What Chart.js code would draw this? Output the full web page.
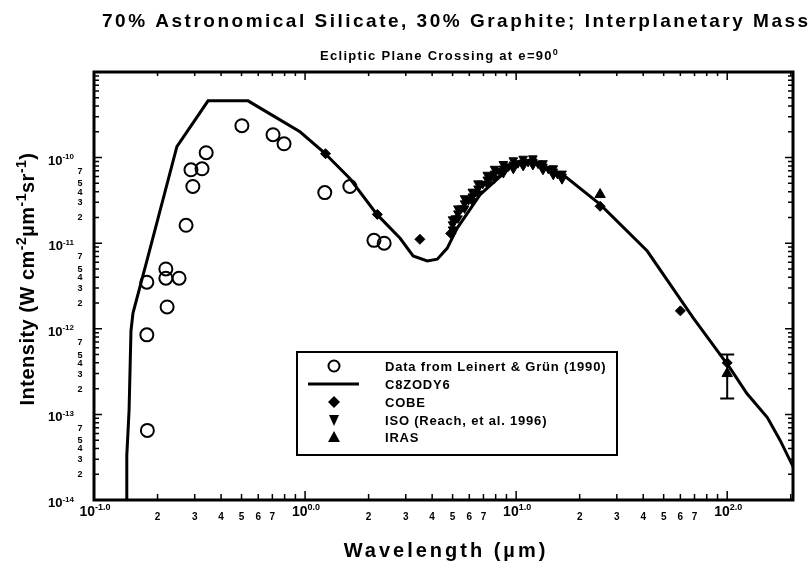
<!DOCTYPE html>
<html>
<head>
<meta charset="utf-8">
<script src="https://cdn.jsdelivr.net/npm/chart.js@4/dist/chart.umd.min.js"></script>
<style>
  html, body { margin: 0; padding: 0; background: #fff; }
  #wrap { width: 810px; height: 567px; }
</style>
</head>
<body>
<div id="wrap"><canvas id="chart" width="810" height="567"></canvas></div>
<script>
// C8ZODY6 model curve
const modelWavelength = [0.142, 0.143, 0.1466, 0.1497, 0.153, 0.178, 0.247, 0.347, 0.537, 0.66, 0.946, 1.22, 1.63, 2.19, 2.82, 3.25, 3.79, 4.23, 4.71, 5.25, 6.75, 9.7, 12.0, 16.7, 25.0, 41.8, 69, 103, 124, 155, 178, 206];
const modelIntensity = [1e-14, 3.3e-14, 1.11e-13, 9.5e-13, 1.53e-12, 6.2e-12, 1.34e-10, 4.6e-10, 4.6e-10, 3.4e-10, 2.0e-10, 1.17e-10, 5.7e-11, 2.17e-11, 1.14e-11, 7.1e-12, 6.2e-12, 6.5e-12, 8.7e-12, 1.49e-11, 3.7e-11, 8.3e-11, 9.0e-11, 6.3e-11, 2.84e-11, 8.1e-12, 1.34e-12, 3.5e-13, 1.75e-13, 9.2e-14, 5.0e-14, 2.4e-14];

// Leinert & Grun (1990)
const leinertWavelength = [0.502, 0.705, 0.795, 0.34, 0.288, 0.325, 0.294, 0.273, 1.24, 1.63, 2.12, 2.37, 0.219, 0.219, 0.253, 0.178, 0.222, 0.178, 0.179];
const leinertIntensity = [2.36e-10, 1.85e-10, 1.45e-10, 1.14e-10, 7.2e-11, 7.4e-11, 4.6e-11, 1.62e-11, 3.9e-11, 4.6e-11, 1.08e-11, 1.0e-11, 5.0e-12, 3.9e-12, 3.9e-12, 3.5e-12, 1.8e-12, 8.5e-13, 6.5e-14];

// COBE
const cobeWavelength = [1.25, 2.2, 3.5, 4.9, 12, 25, 60, 100];
const cobeIntensity = [1.11e-10, 2.17e-11, 1.11e-11, 1.3e-11, 9.0e-11, 2.7e-11, 1.62e-12, 4.0e-13];

// ISO (Reach et al. 1996) - dense spectrum band, read as upper / middle / lower edge
const isoWavelength = [
    5.0, 5.0, 5.0, 5.15, 5.3, 5.3, 5.3, 5.5, 5.7, 5.7, 5.7, 5.95, 6.2, 6.2, 6.2, 6.4,
    6.6, 6.6, 6.6, 6.95, 7.3, 7.3, 7.3, 7.6, 7.9, 7.9, 7.9, 8.3, 8.7, 8.7, 8.7, 9.2,
    9.7, 9.7, 9.7, 10.2, 10.8, 10.8, 10.8, 11.4, 12.0, 12.0, 12.0, 12.7, 13.4, 13.4, 13.4, 14.2,
    15.0, 15.0, 15.0, 15.7, 16.5, 16.5, 16.5
];
const isoIntensity = [
    1.9e-11, 1.66e-11, 1.45e-11, 1.95e-11, 2.55e-11, 2.23e-11, 1.95e-11, 2.55e-11, 3.35e-11, 2.92e-11, 2.55e-11, 3.2e-11, 4.0e-11, 3.52e-11, 3.1e-11, 3.95e-11,
    5.0e-11, 4.36e-11, 3.8e-11, 4.95e-11, 6.3e-11, 5.55e-11, 4.9e-11, 6.0e-11, 7.4e-11, 6.5e-11, 5.7e-11, 7.0e-11, 8.4e-11, 7.45e-11, 6.6e-11, 7.9e-11,
    9.3e-11, 8.3e-11, 7.4e-11, 8.6e-11, 9.7e-11, 8.75e-11, 8.0e-11, 8.9e-11, 9.8e-11, 8.98e-11, 8.2e-11, 8.5e-11, 8.6e-11, 7.86e-11, 7.2e-11, 7.4e-11,
    7.5e-11, 6.87e-11, 6.3e-11, 6.45e-11, 6.5e-11, 6.0e-11, 5.6e-11
];

// IRAS
const irasWavelength = [25, 100];
const irasIntensity = [3.7e-11, 3.0e-13];
const irasErrLow = [null, 1.53e-13];
const irasErrHigh = [null, 5.0e-13];

// axes
const xDecades = [-1, 0, 1, 2];
const xMajorExp = ['-1.0', '0.0', '1.0', '2.0'];
const xMinorLabels = ['2', '3', '4', '5', '6', '7'];
const yDecades = [-14, -13, -12, -11, -10];
const yMajorExp = ['-14', '-13', '-12', '-11', '-10'];
const yMinorLabels = ['2', '3', '4', '5', '7'];

const legendLabels = ['Data from Leinert & Grün (1990)', 'C8ZODY6', 'COBE', 'ISO (Reach, et al. 1996)', 'IRAS'];

const FONT = '"Liberation Sans", Arial, sans-serif';

function pts(xs, ys) {
    return xs.map((x, i) => ({ x: x, y: ys[i] }));
}

function logTicks(decades, scale) {
    const ticks = [];
    decades.forEach(d => {
        for (let m = 1; m <= 9; m++) {
            const v = m * Math.pow(10, d);
            if (v >= scale.min * 0.999 && v <= scale.max * 1.001) ticks.push({ value: v });
        }
    });
    scale.ticks = ticks;
}

// draw text pieces, some raised as superscripts
function richText(ctx, parts, x, y, size, align, supScale) {
    const supSize = Math.round(size * (supScale || 0.68));
    let total = 0;
    parts.forEach(p => {
        ctx.font = `bold ${p[1] ? supSize : size}px ${FONT}`;
        total += ctx.measureText(p[0]).width;
    });
    let cx = align === 'center' ? x - total / 2 : (align === 'right' ? x - total : x);
    ctx.textAlign = 'left';
    ctx.textBaseline = 'alphabetic';
    parts.forEach(p => {
        ctx.font = `bold ${p[1] ? supSize : size}px ${FONT}`;
        ctx.fillText(p[0], cx, p[1] ? y - size * 0.42 : y);
        cx += ctx.measureText(p[0]).width;
    });
}

const decorPlugin = {
    id: 'decor',
    afterDraw(chart) {
        const ctx = chart.ctx;
        const a = chart.chartArea;
        const xs = chart.scales.x;
        const ys = chart.scales.y;
        ctx.save();
        ctx.fillStyle = '#000';
        ctx.strokeStyle = '#000';

        // error bar on IRAS 100 um
        ctx.lineWidth = 2;
        irasWavelength.forEach((w, i) => {
            if (irasErrLow[i] == null) return;
            const px = xs.getPixelForValue(w);
            const lo = ys.getPixelForValue(irasErrLow[i]);
            const hi = ys.getPixelForValue(irasErrHigh[i]);
            ctx.beginPath();
            ctx.moveTo(px, lo); ctx.lineTo(px, hi);
            ctx.moveTo(px - 7, lo); ctx.lineTo(px + 7, lo);
            ctx.moveTo(px - 7, hi); ctx.lineTo(px + 7, hi);
            ctx.stroke();
        });

        // inward ticks, all four sides
        ctx.lineWidth = 1.5;
        xs.ticks.forEach(t => {
            const px = xs.getPixelForValue(t.value);
            const major = Math.abs(Math.log10(t.value) - Math.round(Math.log10(t.value))) < 1e-6;
            const lb = major ? 9 : 6;
            const lt = major ? 8 : 4;
            ctx.beginPath();
            ctx.moveTo(px, a.bottom); ctx.lineTo(px, a.bottom - lb);
            ctx.moveTo(px, a.top); ctx.lineTo(px, a.top + lt);
            ctx.stroke();
        });
        ys.ticks.forEach(t => {
            const py = ys.getPixelForValue(t.value);
            const major = Math.abs(Math.log10(t.value) - Math.round(Math.log10(t.value))) < 1e-6;
            const l = major ? 8 : 5;
            ctx.beginPath();
            ctx.moveTo(a.left, py); ctx.lineTo(a.left + l, py);
            ctx.moveTo(a.right, py); ctx.lineTo(a.right - l, py);
            ctx.stroke();
        });

        // frame
        ctx.lineWidth = 3;
        ctx.strokeRect(a.left, a.top, a.right - a.left, a.bottom - a.top);

        // x tick labels
        xDecades.forEach((d, i) => {
            const px = xs.getPixelForValue(Math.pow(10, d));
            richText(ctx, [['10', false], [xMajorExp[i], true]], px + 1, a.bottom + 16, 14, 'center', 0.62);
            if (d < xDecades[xDecades.length - 1]) {
                ctx.font = `bold 10px ${FONT}`;
                ctx.textAlign = 'center';
                xMinorLabels.forEach(m => {
                    const mx = xs.getPixelForValue(Number(m) * Math.pow(10, d));
                    ctx.fillText(m, mx, a.bottom + 20);
                });
            }
        });

        // y tick labels
        yDecades.forEach((d, i) => {
            const py = ys.getPixelForValue(Math.pow(10, d));
            richText(ctx, [['10', false], [yMajorExp[i], true]], 74, py + 7, 13, 'right', 0.65);
            if (d < yDecades[yDecades.length - 1]) {
                ctx.font = `bold 9px ${FONT}`;
                ctx.textAlign = 'center';
                yMinorLabels.forEach(m => {
                    const my = ys.getPixelForValue(Number(m) * Math.pow(10, d));
                    ctx.fillText(m, 80, my + 3);
                });
            }
        });

        // titles
        ctx.letterSpacing = '2.5px';
        richText(ctx, [['70% Astronomical Silicate, 30% Graphite; Interplanetary Mass', false]], 102, 27, 19, 'left');
        ctx.letterSpacing = '1.3px';
        richText(ctx, [['Ecliptic Plane Crossing at e=90', false], ['0', true]], 320, 60, 13, 'left');
        ctx.letterSpacing = '3px';
        richText(ctx, [['Wavelength (µm)', false]], 446, 557, 20, 'center');
        ctx.letterSpacing = '0.5px';
        ctx.save();
        ctx.translate(34, 279);
        ctx.rotate(-Math.PI / 2);
        richText(ctx, [['Intensity (W cm', false], ['-2', true], ['µm', false], ['-1', true], ['sr', false], ['-1', true], [')', false]], 0, 0, 20, 'center');
        ctx.restore();
        ctx.letterSpacing = '0px';

        // legend box
        const lx = 297, ly = 352, lw = 320, lh = 103;
        ctx.fillStyle = '#fff';
        ctx.fillRect(lx, ly, lw, lh);
        ctx.fillStyle = '#000';
        ctx.lineWidth = 2;
        ctx.strokeRect(lx, ly, lw, lh);
        const rowY = [366, 384, 402, 420, 437];
        const mx = 334;
        // circle
        ctx.lineWidth = 2;
        ctx.beginPath(); ctx.arc(mx, rowY[0], 5.5, 0, Math.PI * 2); ctx.stroke();
        // line
        ctx.lineWidth = 3;
        ctx.beginPath(); ctx.moveTo(308, rowY[1]); ctx.lineTo(359, rowY[1]); ctx.stroke();
        // diamond
        ctx.beginPath();
        ctx.moveTo(mx, rowY[2] - 6); ctx.lineTo(mx + 6, rowY[2]); ctx.lineTo(mx, rowY[2] + 6); ctx.lineTo(mx - 6, rowY[2]);
        ctx.closePath(); ctx.fill();
        // down triangle
        ctx.beginPath();
        ctx.moveTo(mx - 5, rowY[3] - 5); ctx.lineTo(mx + 5, rowY[3] - 5); ctx.lineTo(mx, rowY[3] + 6);
        ctx.closePath(); ctx.fill();
        // up triangle
        ctx.beginPath();
        ctx.moveTo(mx - 6, rowY[4] + 5); ctx.lineTo(mx + 6, rowY[4] + 5); ctx.lineTo(mx, rowY[4] - 6);
        ctx.closePath(); ctx.fill();
        ctx.font = `bold 13px ${FONT}`;
        ctx.letterSpacing = '0.8px';
        ctx.textAlign = 'left';
        ctx.textBaseline = 'middle';
        legendLabels.forEach((t, i) => ctx.fillText(t, 385, rowY[i] + 1));
        ctx.letterSpacing = '0px';
        ctx.restore();
    }
};

new Chart(document.getElementById('chart'), {
    type: 'scatter',
    data: {
        datasets: [
            {
                label: legendLabels[0],
                data: pts(leinertWavelength, leinertIntensity),
                pointStyle: 'circle',
                pointRadius: 6.5,
                borderColor: '#000',
                backgroundColor: 'rgba(0,0,0,0)',
                borderWidth: 2
            },
            {
                label: legendLabels[1],
                data: pts(modelWavelength, modelIntensity),
                showLine: true,
                borderColor: '#000',
                borderWidth: 3,
                pointRadius: 0,
                tension: 0
            },
            {
                label: legendLabels[2],
                data: pts(cobeWavelength, cobeIntensity),
                pointStyle: 'rectRot',
                pointRadius: 5,
                borderColor: '#000',
                backgroundColor: '#000',
                borderWidth: 1
            },
            {
                label: legendLabels[3],
                data: pts(isoWavelength, isoIntensity),
                pointStyle: 'triangle',
                rotation: 180,
                pointRadius: 5,
                borderColor: '#000',
                backgroundColor: '#000',
                borderWidth: 1
            },
            {
                label: legendLabels[4],
                data: pts(irasWavelength, irasIntensity),
                pointStyle: 'triangle',
                pointRadius: 6,
                borderColor: '#000',
                backgroundColor: '#000',
                borderWidth: 1
            }
        ]
    },
    options: {
        responsive: false,
        animation: false,
        layout: { padding: { left: 94, right: 17, top: 72, bottom: 67 } },
        plugins: {
            legend: { display: false },
            tooltip: { enabled: false }
        },
        scales: {
            x: {
                type: 'logarithmic',
                min: 0.1,
                max: 205,
                afterBuildTicks: s => logTicks(xDecades, s),
                afterFit: s => { s.height = 0; },
                ticks: { display: false },
                grid: { display: false },
                border: { display: false }
            },
            y: {
                type: 'logarithmic',
                min: 1e-14,
                max: 1e-9,
                afterBuildTicks: s => logTicks(yDecades, s),
                afterFit: s => { s.width = 0; },
                ticks: { display: false },
                grid: { display: false },
                border: { display: false }
            }
        }
    },
    plugins: [decorPlugin]
});
</script>
</body>
</html>
